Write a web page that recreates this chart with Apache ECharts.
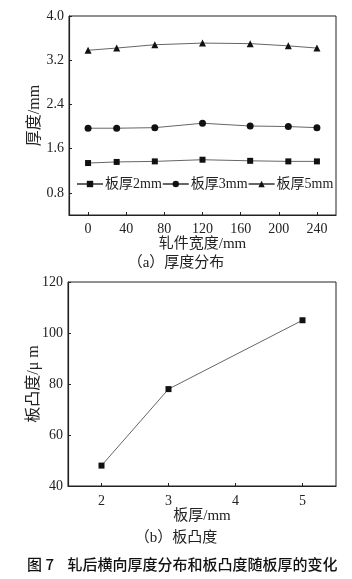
<!DOCTYPE html>
<html>
<head>
<meta charset="utf-8">
<script src="https://cdn.jsdelivr.net/npm/echarts@6/dist/echarts.min.js"></script>
<style>
  html, body { margin: 0; padding: 0; background: #fff; }
  #myChart { width: 352px; height: 579px; }
</style>
</head>
<body>
<div id="myChart"></div>
<script>
// (a) 厚度分布
const widthPos = [0, 30, 70, 120, 170, 210, 240];
const thick2mm = [1.34, 1.36, 1.37, 1.40, 1.38, 1.37, 1.37];
const thick3mm = [1.97, 1.97, 1.98, 2.06, 2.01, 2.00, 1.98];
const thick5mm = [3.38, 3.42, 3.48, 3.51, 3.50, 3.46, 3.42];
const xTicksA = [0, 40, 80, 120, 160, 200, 240];
const yTicksA = [0.8, 1.6, 2.4, 3.2, 4.0];

// (b) 板凸度
const plateThick = [2, 3, 5];
const crown = [48, 78, 105];
const xTicksB = [2, 3, 4, 5];
const yTicksB = [40, 60, 80, 100, 120];

const serif = '"Liberation Serif", "Noto Sans CJK SC", serif';
const ink = "#222";

function pairs(xs, ys) {
  return xs.map((x, i) => [x, ys[i]]);
}

function lineSeries(name, data, symbol, size, gridIdx) {
  return {
    type: "line",
    name: name,
    data: data,
    xAxisIndex: gridIdx,
    yAxisIndex: gridIdx,
    symbol: symbol,
    symbolSize: size,
    showSymbol: true,
    itemStyle: { color: "#111" },
    lineStyle: { color: "#666", width: 1 },
    animation: false,
  };
}

// 坐标轴公共样式, ticks 用 customValues 指定
function makeAxis(opt, ticks, nameSize) {
  return Object.assign({
    type: "value",
    nameLocation: "middle",
    axisLine: { show: true, onZero: false, lineStyle: { color: ink, width: 1.2 } },
    axisTick: { show: true, inside: true, length: 3, lineStyle: { color: ink }, customValues: ticks },
    splitLine: { show: false },
    nameTextStyle: { color: ink, fontFamily: serif, fontSize: nameSize },
  }, opt, {
    axisLabel: Object.assign({ color: ink, fontFamily: serif, fontSize: 14, customValues: ticks }, opt.axisLabel || {}),
  });
}

let chart = echarts.init(document.getElementById("myChart"));
let option = {
  backgroundColor: "#fff",
  grid: [
    { left: 69, top: 16, width: 267, height: 199, show: true, borderColor: ink, borderWidth: 1 },
    { left: 68, top: 282, width: 268, height: 204, show: true, borderColor: ink, borderWidth: 1 },
  ],
  legend: {
    data: ["板厚2mm", "板厚3mm", "板厚5mm"],
    left: 76,
    top: 177,
    width: 275,
    padding: 0,
    itemWidth: 26,
    itemHeight: 8,
    itemGap: 0,
    textStyle: { color: ink, fontFamily: serif, fontSize: 14, padding: [0, 0, 0, -3] },
  },
  xAxis: [
    makeAxis({ gridIndex: 0, min: -20, max: 260, name: "轧件宽度/mm", nameGap: 22, axisLabel: { margin: 7 } }, xTicksA, 15),
    makeAxis({ gridIndex: 1, min: 1.5, max: 5.5, name: "板厚/mm", nameGap: 22, axisLabel: { margin: 8 } }, xTicksB, 15),
  ],
  yAxis: [
    makeAxis({ gridIndex: 0, min: 0.4, max: 4.0, name: "厚度/mm", nameGap: 26, nameMoveOverlap: false,
      axisLabel: { margin: 5, formatter: (v) => v.toFixed(1) } }, yTicksA, 16),
    makeAxis({ gridIndex: 1, min: 40, max: 120, name: "板凸度/μ m", nameGap: 26, nameMoveOverlap: false,
      axisLabel: { margin: 5 } }, yTicksB, 16),
  ],
  series: [
    lineSeries("板厚2mm", pairs(widthPos, thick2mm), "rect", 6, 0),
    lineSeries("板厚3mm", pairs(widthPos, thick3mm), "circle", 7, 0),
    lineSeries("板厚5mm", pairs(widthPos, thick5mm), "triangle", 7, 0),
    lineSeries("板凸度", pairs(plateThick, crown), "rect", 6, 1),
  ],
  graphic: [
    {
      type: "text", left: "center", top: 256,
      style: { text: "（a）厚度分布", fill: ink, font: "15px " + serif },
    },
    {
      type: "text", left: "center", top: 531,
      style: { text: "（b）板凸度", fill: ink, font: "15px " + serif },
    },
    {
      type: "text", left: 27, top: 557,
      style: { text: "图 7    轧后横向厚度分布和板凸度随板厚的变化", fill: "#111", font: "500 15px 'Noto Sans CJK SC', sans-serif" },
    },
  ],
};
chart.setOption(option);
</script>
</body>
</html>
